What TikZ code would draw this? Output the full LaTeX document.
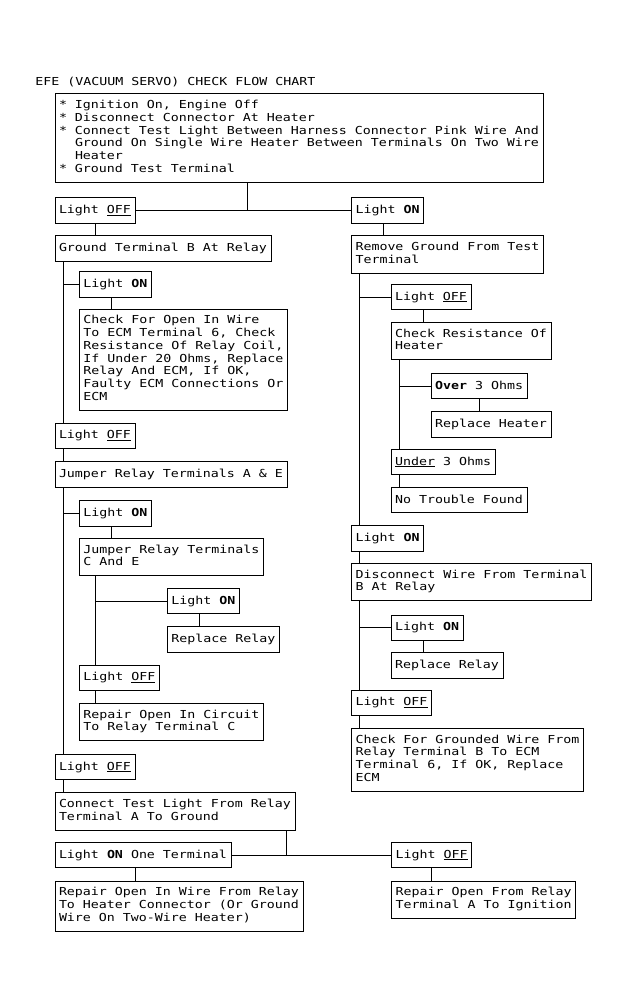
\documentclass[tikz,border=0pt]{standalone}
\usepackage{fontspec}
\newfontfamily\chartfont[FakeStretch=1.208]{DejaVu Sans Mono}
\newcommand\lighton{Light \textbf{ON}}
\newcommand\lightoff{Light \underline{OFF}}
\newcommand\chartstrut{\rule[-3.4pt]{0pt}{12.6pt}}

\begin{document}
\begin{tikzpicture}[x=1pt, y=-1pt, line width=0.9pt,
  every node/.style={font=\chartfont\fontsize{11}{12.75}\selectfont},
  box/.style={draw, anchor=north west, align=left, outer sep=0pt,
    inner xsep=4pt, inner ysep=6.5pt,
    execute at begin node=\chartstrut, execute at end node=\chartstrut}]
  \useasboundingbox (0,0) rectangle (630,1007);

  \node[anchor=base west, inner sep=0pt] (title) at (35,85) {EFE (VACUUM SERVO) CHECK FLOW CHART};

  \node[box] (start) at (55,93.7) {* Ignition On, Engine Off\\
    * Disconnect Connector At Heater\\
    * Connect Test Light Between Harness Connector Pink Wire And\\
    \hphantom{*\ }Ground On Single Wire Heater Between Terminals On Two Wire\\
    \hphantom{*\ }Heater\\
    * Ground Test Terminal};

  % left side
  \node[box] (offL)    at (55,197.5)   {\lightoff};
  \node[box] (gnd)     at (55,235.6)   {Ground Terminal B At Relay};
  \node[box] (on1)     at (79.3,271.7) {\lighton};
  \node[box] (chkOpen) at (79.3,309)   {Check For Open In Wire\\
    To ECM Terminal 6, Check\\
    Resistance Of Relay Coil,\\
    If Under 20 Ohms, Replace\\
    Relay And ECM, If OK,\\
    Faulty ECM Connections Or\\
    ECM};
  \node[box] (off1)    at (55,423)     {\lightoff};
  \node[box] (jmpAE)   at (55,461.7)   {Jumper Relay Terminals A \& E};
  \node[box] (on2)     at (79.3,500.7) {\lighton};
  \node[box] (jmpCE)   at (79.3,538.3) {Jumper Relay Terminals\\C And E};
  \node[box] (on3)     at (167.3,588.3) {\lighton};
  \node[box] (rplRly1) at (167.3,626.7) {Replace Relay};
  \node[box] (off2)    at (79.3,665)   {\lightoff};
  \node[box] (rprC)    at (79.3,703.3) {Repair Open In Circuit\\To Relay Terminal C};
  \node[box] (off3)    at (55,754.3)   {\lightoff};
  \node[box] (cnct)    at (55,792.7)   {Connect Test Light From Relay\\Terminal A To Ground};
  \node[box] (onOne)   at (55,842.3)   {Light \textbf{ON} One Terminal};
  \node[box] (rprWire) at (55,881)     {Repair Open In Wire From Relay\\
    To Heater Connector (Or Ground\\
    Wire On Two-Wire Heater)};
  \node[box] (off4)    at (391.7,842.3) {\lightoff};
  \node[box] (rprIgn)  at (391.7,881)  {Repair Open From Relay\\Terminal A To Ignition};

  % right side
  \node[box] (onR)     at (351.5,197.5) {\lighton};
  \node[box] (rmv)     at (351.5,235.6) {Remove Ground From Test\\Terminal};
  \node[box] (off5)    at (391,284.3)  {\lightoff};
  \node[box] (chkRes)  at (391,322.3)  {Check Resistance Of\\Heater};
  \node[box] (over)    at (431,373.3)  {\textbf{Over} 3 Ohms};
  \node[box] (rplHtr)  at (431,411.7)  {Replace Heater};
  \node[box] (under)   at (391,449.3)  {\underline{Under} 3 Ohms};
  \node[box] (noTrbl)  at (391,487.3)  {No Trouble Found};
  \node[box] (on4)     at (351.5,525.5) {\lighton};
  \node[box] (disc)    at (351.5,563.3) {Disconnect Wire From Terminal\\B At Relay};
  \node[box] (on5)     at (391,615)    {\lighton};
  \node[box] (rplRly2) at (391,652.7)  {Replace Relay};
  \node[box] (off6)    at (351.5,690)  {\lightoff};
  \node[box] (chkGnd)  at (351.5,728.3) {Check For Grounded Wire From\\
    Relay Terminal B To ECM\\
    Terminal 6, If OK, Replace\\
    ECM};

  % x of the vertical lines
  \foreach \n/\x in {split/247, join/286.7, lineL/63.3, lineR/359.3, subL/95, subR/399.3,
      dOffL/95, dOnR/383.3, dOn1/111.3, dOn2/111.3, dOn3/199.3, dOff5/423.3,
      dOver/479.3, dOn5/423.3, dOnOne/135.7, dOff4/431.7}
    \coordinate (\n) at (\x,0);

  \foreach \a/\b/\c in {gnd/off1/lineL, off1/jmpAE/lineL, jmpAE/off3/lineL, off3/cnct/lineL,
      rmv/on4/lineR, on4/disc/lineR, disc/off6/lineR, off6/chkGnd/lineR,
      jmpCE/off2/subL, off2/rprC/subL, chkRes/under/subR, under/noTrbl/subR,
      offL/gnd/dOffL, onR/rmv/dOnR, on1/chkOpen/dOn1, on2/jmpCE/dOn2, on3/rplRly1/dOn3,
      off5/chkRes/dOff5, over/rplHtr/dOver, on5/rplRly2/dOn5,
      onOne/rprWire/dOnOne, off4/rprIgn/dOff4}
    \draw (\a.south -| \c) -- (\b.north -| \c);

  \foreach \c/\b in {lineL/on1, lineL/on2, subL/on3, lineR/off5, lineR/on5, subR/over}
    \draw (\c |- \b.west) -- (\b.west);

  \draw (start.south -| split) -- (split |- offL.east);
  \draw (offL) -- (onR);
  \draw (cnct.south -| join) -- (join |- onOne.east);
  \draw (onOne) -- (off4);
\end{tikzpicture}
\end{document}
